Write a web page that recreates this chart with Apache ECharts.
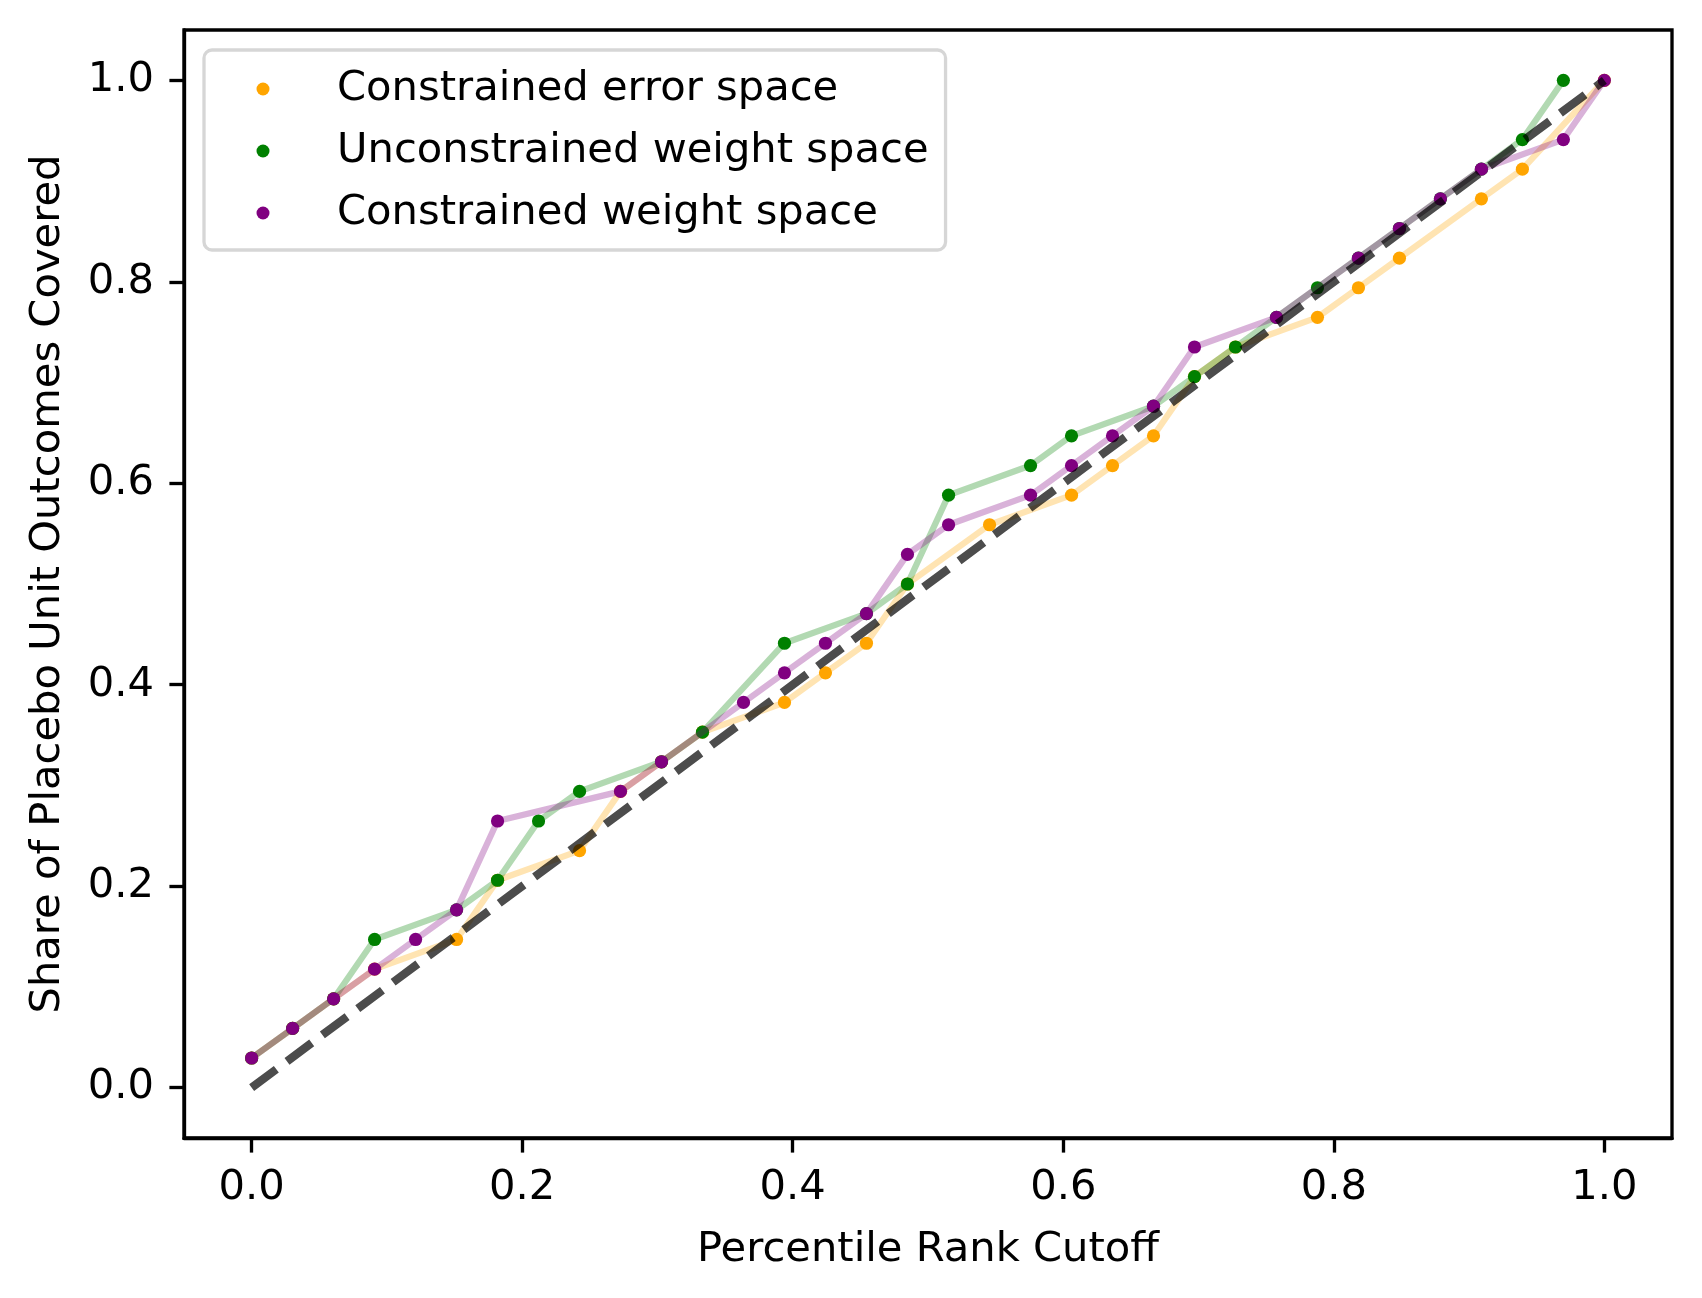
<!DOCTYPE html>
<html>
<head>
<meta charset="utf-8">
<script src="https://cdn.jsdelivr.net/npm/echarts@6/dist/echarts.min.js"></script>
<style>
html,body{margin:0;padding:0;background:#fff;}
#chart{width:1702px;height:1298px;}
</style>
</head>
<body>
<div id="chart"></div>
<script>
const seriesNames = ['Constrained error space', 'Unconstrained weight space', 'Constrained weight space'];
const seriesColors = ['#FFA500', '#008000', '#800080'];

const orangeX = [0, 0.0303, 0.0606, 0.0909, 0.1515, 0.1818, 0.2424, 0.2727, 0.3030, 0.3333, 0.3939, 0.4242, 0.4545, 0.4848, 0.5455, 0.6061, 0.6364, 0.6667, 0.6970, 0.7273, 0.7879, 0.8182, 0.8485, 0.9091, 0.9394, 1.0];
const orangeY = [0.0294, 0.0588, 0.0882, 0.1176, 0.1471, 0.2059, 0.2353, 0.2941, 0.3235, 0.3529, 0.3824, 0.4118, 0.4412, 0.5, 0.5588, 0.5882, 0.6176, 0.6471, 0.7059, 0.7353, 0.7647, 0.7941, 0.8235, 0.8824, 0.9118, 1.0];

const greenX = [0, 0.0303, 0.0606, 0.0909, 0.1515, 0.1818, 0.2121, 0.2424, 0.3030, 0.3333, 0.3939, 0.4545, 0.4848, 0.5152, 0.5758, 0.6061, 0.6667, 0.6970, 0.7273, 0.7576, 0.7879, 0.8182, 0.8485, 0.8788, 0.9091, 0.9394, 0.9697];
const greenY = [0.0294, 0.0588, 0.0882, 0.1471, 0.1765, 0.2059, 0.2647, 0.2941, 0.3235, 0.3529, 0.4412, 0.4706, 0.5, 0.5882, 0.6176, 0.6471, 0.6765, 0.7059, 0.7353, 0.7647, 0.7941, 0.8235, 0.8529, 0.8824, 0.9118, 0.9412, 1.0];

const purpleX = [0, 0.0303, 0.0606, 0.0909, 0.1212, 0.1515, 0.1818, 0.2727, 0.3030, 0.3636, 0.3939, 0.4242, 0.4545, 0.4848, 0.5152, 0.5758, 0.6061, 0.6364, 0.6667, 0.6970, 0.7576, 0.8182, 0.8485, 0.8788, 0.9091, 0.9697, 1.0];
const purpleY = [0.0294, 0.0588, 0.0882, 0.1176, 0.1471, 0.1765, 0.2647, 0.2941, 0.3235, 0.3824, 0.4118, 0.4412, 0.4706, 0.5294, 0.5588, 0.5882, 0.6176, 0.6471, 0.6765, 0.7353, 0.7647, 0.8235, 0.8529, 0.8824, 0.9118, 0.9412, 1.0];

const refX = [0, 1];
const refY = [0, 1];

const xTicks = [0, 0.2, 0.4, 0.6, 0.8, 1.0];
const yTicks = [0, 0.2, 0.4, 0.6, 0.8, 1.0];
const xTitle = 'Percentile Rank Cutoff';
const yTitle = 'Share of Placebo Unit Outcomes Covered';

const FONT = 'DejaVu Sans';
const FS = 41.67;

function pairs(xs, ys) { return xs.map((x, i) => [x, ys[i]]); }
function rgba(hex, a) {
  const r = parseInt(hex.slice(1, 3), 16), g = parseInt(hex.slice(3, 5), 16), b = parseInt(hex.slice(5, 7), 16);
  return 'rgba(' + r + ',' + g + ',' + b + ',' + a + ')';
}

const allX = [orangeX, greenX, purpleX];
const allY = [orangeY, greenY, purpleY];

const series = [];
for (let k = 0; k < 3; k++) {
  const d = pairs(allX[k], allY[k]);
  series.push({
    name: seriesNames[k],
    type: 'scatter',
    data: d,
    symbol: 'circle',
    symbolSize: 13.2,
    itemStyle: { color: seriesColors[k], opacity: 1 },
    z: 2 + k * 2,
    silent: true
  });
  series.push({
    name: seriesNames[k] + ' line',
    type: 'line',
    data: d,
    showSymbol: false,
    symbol: 'none',
    lineStyle: { color: rgba(seriesColors[k], 0.3), width: 6.25, cap: 'butt', join: 'round' },
    z: 3 + k * 2,
    silent: true
  });
}
series.push({
  name: 'reference',
  type: 'line',
  data: pairs(refX, refY),
  showSymbol: false,
  symbol: 'none',
  lineStyle: { color: 'rgba(0,0,0,0.7)', width: 8.33, type: [30.8, 13.3], cap: 'butt' },
  z: 10,
  silent: true
});

const axisCommon = {
  type: 'value',
  min: -0.05,
  max: 1.05,
  splitLine: { show: false },
  axisLine: { show: true, onZero: false, lineStyle: { color: '#000', width: 3.33 } },
  axisTick: { show: true, inside: false, length: 14.6, lineStyle: { color: '#000', width: 3.33 } },
  nameLocation: 'middle',
  nameTextStyle: { fontFamily: FONT, fontSize: FS, color: '#000' }
};

const option = {
  animation: false,
  backgroundColor: '#fff',
  grid: {
    left: 184, right: 30, top: 30, bottom: 160,
    show: true, borderColor: '#000', borderWidth: 3.33, backgroundColor: 'transparent'
  },
  legend: {
    data: seriesNames,
    orient: 'vertical',
    left: 204,
    top: 50,
    icon: 'circle',
    symbolKeepAspect: true,
    itemWidth: 138,
    itemHeight: 13,
    itemGap: 14,
    selectedMode: false,
    padding: [15, 17, 13, 52.5],
    backgroundColor: 'rgba(255,255,255,0.8)',
    borderColor: '#d6d6d6',
    borderWidth: 3.3,
    borderRadius: 8,
    textStyle: { fontFamily: FONT, fontSize: FS, color: '#000', lineHeight: 48 }
  },
  xAxis: Object.assign({}, axisCommon, {
    name: xTitle,
    nameGap: 91,
    axisTick: Object.assign({}, axisCommon.axisTick, { customValues: xTicks }),
    axisLabel: {
      customValues: xTicks,
      formatter: v => v.toFixed(1),
      fontFamily: FONT, fontSize: FS, color: '#000', margin: 29
    }
  }),
  yAxis: Object.assign({}, axisCommon, {
    name: yTitle,
    nameGap: 115,
    axisTick: Object.assign({}, axisCommon.axisTick, { customValues: yTicks }),
    axisLabel: {
      customValues: yTicks,
      formatter: v => v.toFixed(1),
      fontFamily: FONT, fontSize: FS, color: '#000', margin: 30
    }
  }),
  series: series
};

const chart = echarts.init(document.getElementById('chart'), null, { renderer: 'canvas' });
chart.setOption(option);
</script>
</body>
</html>
